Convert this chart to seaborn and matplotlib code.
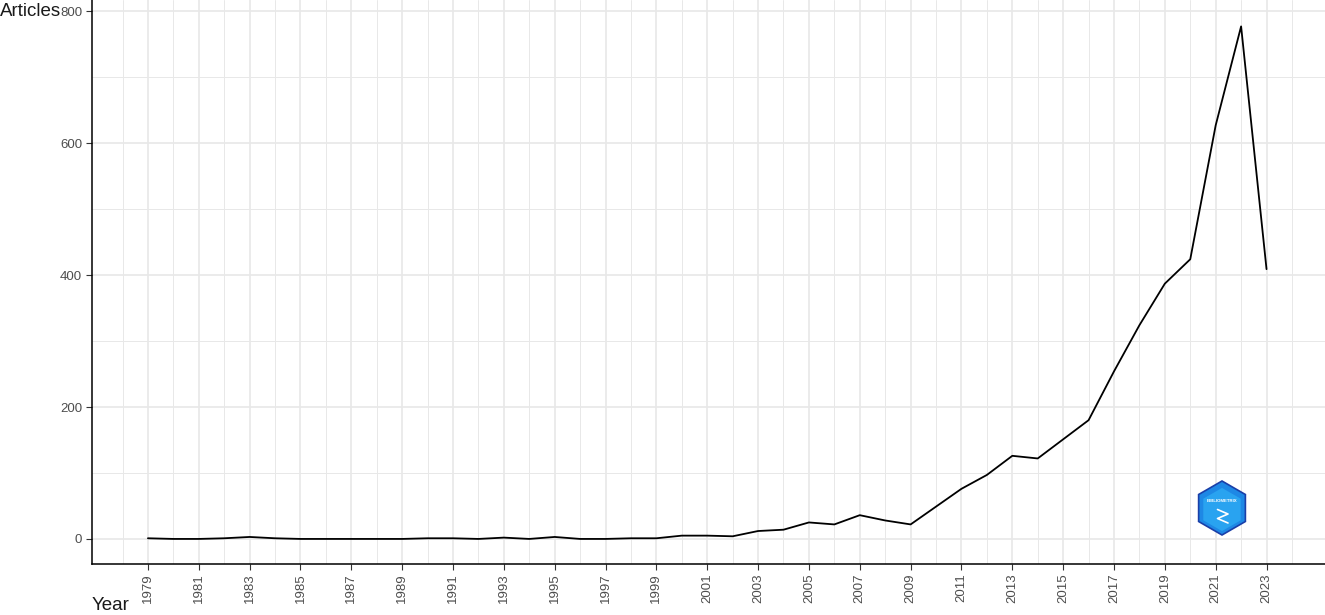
import numpy as np
import pandas as pd
import seaborn as sns
import matplotlib.pyplot as plt
from matplotlib.patches import RegularPolygon
from matplotlib.ticker import MultipleLocator

years = list(range(1979, 2024))
articles = [1, 0, 0, 1, 3, 1, 0, 0, 0, 0,
            0, 1, 1, 0, 2, 0, 3, 0, 0, 1,
            1, 5, 5, 4, 12, 14, 25, 22, 36, 28,
            22, 49, 76, 97, 126, 122, 151, 180, 254, 324,
            387, 424, 627, 777, 409]
tick_years = list(range(1979, 2024, 2))

df = pd.DataFrame({"Year": years, "Articles": articles})

sns.set_style("white")
plt.rcParams['font.family'] = ['Liberation Sans', 'DejaVu Sans']

fig = plt.figure(figsize=(13.25, 6.15), dpi=100)
ax = fig.add_axes([92 / 1325, 1 - 564 / 615, 1 - 92 / 1325, 564 / 615])

sns.lineplot(data=df, x="Year", y="Articles", color="black", linewidth=1.3, ax=ax)

ax.set_xlim(1976.8, 2025.3)
ax.set_ylim(-38, 817)
ax.set_xticks(tick_years)
ax.set_xticklabels([str(y) for y in tick_years], rotation=90)
ax.xaxis.set_minor_locator(MultipleLocator(1))
ax.set_yticks([0, 200, 400, 600, 800])
ax.yaxis.set_minor_locator(MultipleLocator(100))

# grid: every year vertically, every 100 horizontally (only inside 1978-2024)
for y in range(1978, 2025):
    lw = 1.2 if y % 2 == 1 else 0.7
    ax.axvline(y, color="#e8e8e8", linewidth=lw, zorder=0)
for v in range(0, 900, 100):
    lw = 1.2 if v % 200 == 0 else 0.7
    ax.axhline(v, color="#e8e8e8", linewidth=lw, zorder=0)

ax.tick_params(axis="both", which="major", direction="out", length=4, width=0.8,
               bottom=True, left=True, color="#333333", labelsize=9.5,
               labelcolor="#4d4d4d", pad=3)
ax.tick_params(axis="both", which="minor", length=0)

for s in ["top", "right"]:
    ax.spines[s].set_visible(False)
for s in ["left", "bottom"]:
    ax.spines[s].set_color("black")
    ax.spines[s].set_linewidth(1.1)

ax.set_xlabel("")
ax.set_ylabel("")
fig.text(0.0, 1 - 12 / 615, "Articles", fontsize=13.5, color="#1a1a1a", ha="left", va="center")
fig.text(92 / 1325, 1 - 606 / 615, "Year", fontsize=13.5, color="#1a1a1a", ha="left", va="center")

# logo
lax = fig.add_axes([(1222 - 30) / 1325, 1 - (508 + 30) / 615, 60 / 1325, 60 / 615])
lax.set_xlim(-1, 1)
lax.set_ylim(-1, 1)
lax.set_aspect("equal")
lax.axis("off")
lax.add_patch(RegularPolygon((0, 0), 6, radius=0.9, orientation=0,
                             facecolor="#1e88e5", edgecolor="#1a3fa8", linewidth=1.2))
lax.add_patch(RegularPolygon((0, -0.05), 6, radius=0.72, orientation=0,
                             facecolor="#29a3f0", edgecolor="none"))
lax.text(0, 0.22, "BIBLIOMETRIX", fontsize=3.2, color="white", ha="center",
         va="center", fontweight="bold")
lax.plot([-0.15, 0.2, -0.15, 0.2], [-0.05, -0.2, -0.35, -0.5], color="white", linewidth=1.2)

fig.savefig("out.png", dpi=100)
